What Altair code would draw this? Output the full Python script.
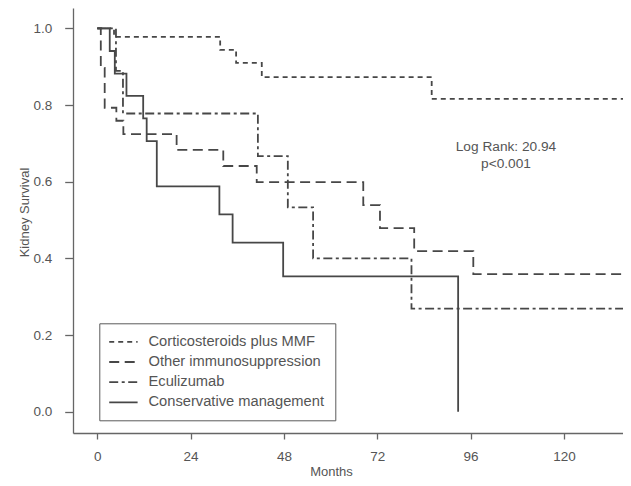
import altair as alt
import pandas as pd

# ---- data (Kaplan-Meier step curves) ----
groups = ["Corticosteroids plus MMF", "Other immunosuppression", "Eculizumab", "Conservative management"]

cs_months = [0, 4.3, 31.6, 35.7, 42.3, 86.0, 140]
cs_surv = [1.0, 0.978, 0.944, 0.910, 0.873, 0.816, 0.816]

oi_months = [0, 0.9, 1.9, 4.9, 6.7, 20.4, 32.4, 41.0, 68.4, 72.7, 81.5, 96.7, 140]
oi_surv = [1.0, 0.897, 0.793, 0.759, 0.724, 0.683, 0.641, 0.599, 0.539, 0.479, 0.419, 0.359, 0.359]

ec_months = [0, 4.8, 6.6, 41.3, 49.0, 55.5, 80.8, 140]
ec_surv = [1.0, 0.889, 0.778, 0.667, 0.533, 0.400, 0.269, 0.269]

cm_months = [0, 3.2, 4.5, 7.5, 11.8, 12.7, 15.3, 31.4, 34.8, 47.8, 92.8]
cm_surv = [1.0, 0.941, 0.882, 0.824, 0.765, 0.706, 0.588, 0.515, 0.441, 0.353, 0.0]

x_ticks = [0, 24, 48, 72, 96, 120]
y_ticks = [0.0, 0.2, 0.4, 0.6, 0.8, 1.0]

annot_lines = ["Log Rank: 20.94", "p<0.001"]
annot_month = [105.1, 105.1]
annot_surv = [0.691, 0.645]

dash_styles = [[5, 4], [10, 5.5], [9, 3.5, 3, 3.5], [1, 0]]

# ---- tables ----
rows = []
for g, ms, ss in zip(groups,
                     [cs_months, oi_months, ec_months, cm_months],
                     [cs_surv, oi_surv, ec_surv, cm_surv]):
    for m, s in zip(ms, ss):
        rows.append({"group": g, "month": m, "surv": s})
df = pd.DataFrame(rows)
annot = pd.DataFrame({"label": annot_lines, "month": annot_month, "surv": annot_surv})

FONT = "Liberation Sans"
TXT = "#555555"
LINE = "#474747"

xscale = alt.Scale(domain=[-6.25, 135.2], nice=False, zero=False)
yscale = alt.Scale(domain=[-0.0556, 1.0532], nice=False, zero=False)

lines = alt.Chart(df).mark_line(
    interpolate="step-after", strokeWidth=1.8, color=LINE, clip=True
).encode(
    x=alt.X("month:Q", scale=xscale,
            axis=alt.Axis(values=x_ticks, title="Months", format="d",
                          tickSize=6, labelPadding=10, titlePadding=3, titleX=258)),
    y=alt.Y("surv:Q", scale=yscale,
            axis=alt.Axis(values=y_ticks, title="Kidney Survival", format=".1f",
                          tickSize=8.3, labelPadding=13, titlePadding=1, titleY=204)),
    strokeDash=alt.StrokeDash(
        "group:N",
        scale=alt.Scale(domain=groups, range=dash_styles),
        sort=groups,
        legend=alt.Legend(
            title=None, orient="none", legendX=26.3, legendY=315.3,
            symbolType="M-1.21,0H2.79", symbolSize=201.6, symbolStrokeWidth=1.8,
            symbolStrokeColor=LINE, symbolFillColor="transparent",
            labelFontSize=14.7, labelColor=TXT, labelFont=FONT, labelLimit=400,
            labelOffset=22.7, rowPadding=5.2, padding=10.5,
            strokeColor="#5a5a5a", fillColor="white",
        ),
    ),
)

text = alt.Chart(annot).mark_text(
    align="center", baseline="middle", fontSize=13.7, color=TXT, font=FONT
).encode(
    x=alt.X("month:Q", scale=xscale),
    y=alt.Y("surv:Q", scale=yscale),
    text="label:N",
)

chart = alt.layer(lines, text).properties(
    width=550, height=425,
    autosize=alt.AutoSizeParams(type="none"),
    padding={"left": 65, "top": 0, "right": 0, "bottom": 45},
).configure_view(stroke=None).configure_axis(
    grid=False, domainColor="#666666", tickColor="#666666", domainWidth=1.3, tickWidth=1.3,
    labelColor=TXT, titleColor=TXT, labelFont=FONT, titleFont=FONT,
    labelFontSize=13.5, titleFontSize=13, titleFontWeight="normal",
)

chart.save("out.html", embed_options={"renderer": "svg", "actions": False})
